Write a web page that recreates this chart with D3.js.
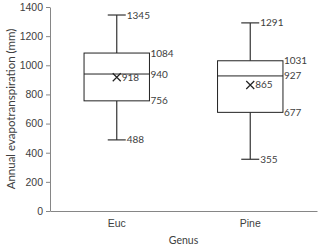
<!DOCTYPE html>
<html>
<head>
<meta charset="utf-8">
<script src="https://cdn.jsdelivr.net/npm/d3@7"></script>
<style>
  body { margin: 0; background: #fff; }
  svg { display: block; font-family: Lato, "Open Sans", sans-serif; }
</style>
</head>
<body>
<svg id="chart"></svg>
<script>
var genus = ["Euc", "Pine"];
var minVals = [488, 355];
var q1Vals = [756, 677];
var medianVals = [940, 927];
var q3Vals = [1084, 1031];
var maxVals = [1345, 1291];
var meanVals = [918, 865];
var yTicks = [0, 200, 400, 600, 800, 1000, 1200, 1400];

var width = 320, height = 252;
var margin = {top: 7, right: 3, bottom: 41, left: 50};
var svg = d3.select("#chart").attr("width", width).attr("height", height);

var x = d3.scaleBand().domain(genus).range([margin.left, width - margin.right]);
var y = d3.scaleLinear().domain([0, 1400]).range([height - margin.bottom, margin.top]);

var boxW = x.bandwidth() * 0.49;
var capW = 18;
var labelColor = "#404040";

// y axis
var yAxis = svg.append("g")
    .attr("transform", "translate(" + margin.left + ",0)")
    .call(d3.axisLeft(y).tickValues(yTicks).tickFormat(d3.format("d")).tickSize(4).tickPadding(3).tickSizeOuter(0));
yAxis.select(".domain").attr("stroke", "#868686");
yAxis.selectAll(".tick line").attr("stroke", "#868686");
yAxis.selectAll(".tick text").attr("fill", labelColor).style("font-size", "10.5px");

// x axis
var xAxis = svg.append("g")
    .attr("transform", "translate(0," + y(0) + ")")
    .call(d3.axisBottom(x).tickSize(0).tickPadding(9));
xAxis.select(".domain").attr("stroke", "#868686");
xAxis.selectAll(".tick text").attr("fill", labelColor).style("font-size", "10.5px");

svg.append("text")
    .attr("x", (margin.left + width - margin.right) / 2)
    .attr("y", height - 8)
    .attr("text-anchor", "middle")
    .attr("fill", labelColor)
    .style("font-size", "10.5px")
    .text("Genus");

svg.append("text")
    .attr("transform", "translate(11," + (margin.top + y(0)) / 2 + ") rotate(-90)")
    .attr("text-anchor", "middle")
    .attr("dy", "0.35em")
    .attr("fill", labelColor)
    .style("font-size", "11.5px")
    .text("Annual evapotranspiration (mm)");

var g = svg.append("g");

genus.forEach(function(name, i) {
    var cx = x(name) + x.bandwidth() / 2;
    var left = cx - boxW / 2, right = cx + boxW / 2;

    // whiskers
    g.append("line").attr("x1", cx).attr("x2", cx).attr("y1", y(q3Vals[i])).attr("y2", y(maxVals[i]))
        .attr("stroke", "#333").attr("stroke-width", 1.2);
    g.append("line").attr("x1", cx).attr("x2", cx).attr("y1", y(q1Vals[i])).attr("y2", y(minVals[i]))
        .attr("stroke", "#333").attr("stroke-width", 1.2);
    g.append("line").attr("x1", cx - capW / 2).attr("x2", cx + capW / 2).attr("y1", y(maxVals[i])).attr("y2", y(maxVals[i]))
        .attr("stroke", "#333").attr("stroke-width", 1.2);
    g.append("line").attr("x1", cx - capW / 2).attr("x2", cx + capW / 2).attr("y1", y(minVals[i])).attr("y2", y(minVals[i]))
        .attr("stroke", "#333").attr("stroke-width", 1.2);

    // box
    g.append("rect").attr("x", left).attr("y", y(q3Vals[i]))
        .attr("width", boxW).attr("height", y(q1Vals[i]) - y(q3Vals[i]))
        .attr("fill", "#fff").attr("stroke", "#222").attr("stroke-width", 1);
    g.append("line").attr("x1", left).attr("x2", right).attr("y1", y(medianVals[i])).attr("y2", y(medianVals[i]))
        .attr("stroke", "#222").attr("stroke-width", 1);

    // mean marker
    var my = y(meanVals[i]), s = 4;
    g.append("path")
        .attr("d", "M" + (cx - s) + "," + (my - s) + "L" + (cx + s) + "," + (my + s) +
                   "M" + (cx - s) + "," + (my + s) + "L" + (cx + s) + "," + (my - s))
        .attr("stroke", "#222").attr("stroke-width", 1.2).attr("fill", "none");

    function label(xp, val) {
        g.append("text").attr("x", xp).attr("y", y(val)).attr("dy", "0.35em")
            .attr("fill", labelColor).style("font-size", "10px").text(val);
    }
    label(cx + capW / 2 + 1, maxVals[i]);
    label(cx + capW / 2 + 1, minVals[i]);
    label(right + 1, q3Vals[i]);
    label(right + 1, medianVals[i]);
    label(right + 1, q1Vals[i]);
    label(cx + s + 1, meanVals[i]);
});
</script>
</body>
</html>
